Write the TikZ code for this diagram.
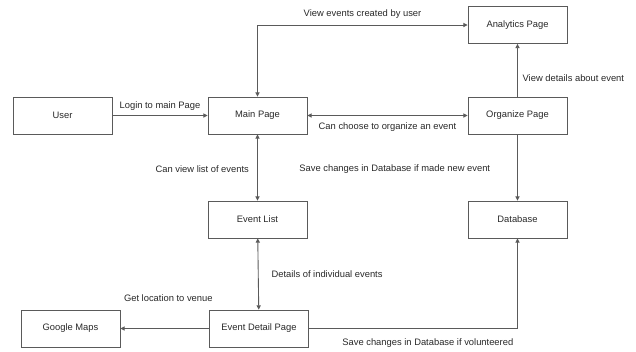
\documentclass[tikz,border=0pt]{standalone}
\usepackage{fontspec}
\setmainfont{Liberation Sans}
\usepackage{xcolor}
\usetikzlibrary{arrows.meta, positioning}
\definecolor{boxline}{RGB}{90, 90, 90}
\definecolor{inktext}{RGB}{40, 40, 40}

\tikzset{
  pagebox/.style={draw=boxline, line width=0.75pt, minimum width=2.97cm, minimum height=1.11cm,
    font=\fontsize{8}{9}\selectfont\color{inktext}},
  flow/.style={draw=boxline, line width=0.75pt, -{Triangle[length=3.6pt, width=3.6pt]}},
  twoway/.style={draw=boxline, line width=0.75pt, {Triangle[length=3.6pt, width=3.6pt]}-{Triangle[length=3.6pt, width=3.6pt]}},
  lbl/.style={font=\fontsize{8}{9}\selectfont\color{inktext}, inner sep=1pt}
}

\begin{document}
\begin{tikzpicture}[x=0.03cm, y=-0.03cm]
  \useasboundingbox (0,0) rectangle (636,351);

  % pages
  \node[pagebox] (user) at (62.5, 115.5) {User};
  \node[pagebox] (main) at (257.5, 115.5) {Main Page};
  \node[pagebox] (analytics) at (517.5, 25) {Analytics Page};
  \node[pagebox] (organize) at (517.5, 115.5) {Organize Page};
  \node[pagebox] (eventlist) at (257.5, 219.5) {Event List};
  \node[pagebox] (database) at (517.5, 219.5) {Database};
  \node[pagebox] (maps) at (70.5, 328.5) {Google Maps};
  \node[pagebox] (detail) at (259, 328.5) {Event Detail Page};

  % connectors
  \draw[flow] (user) -- node[lbl, above=3pt] {Login to main Page} (main);
  \draw[twoway] (main.north) |- node[lbl, pos=0.75, above=4pt] {View events created by user} (analytics.west);
  \draw[twoway] (main) -- node[lbl, below=5pt] {Can choose to organize an event} (organize);
  \draw[flow] (organize) -- node[lbl, pos=0.35, right=3pt] {View details about event} (analytics);
  \draw[flow] (organize) -- node[lbl, left=22pt, pos=0.52] {Save changes in Database if made new event} (database);
  \draw[twoway] (main) -- node[lbl, left=6pt, pos=0.52] {Can view list of events} (eventlist);
  \draw[twoway] (eventlist) -- node[lbl, right=10pt, pos=0.5] {Details of individual events} (detail);
  \draw[flow] (detail) -- node[lbl, above=22pt, pos=0.46] {Get location to venue} (maps);
  \draw[flow] (detail.east) -| node[lbl, pos=0.285, below=7pt] {Save changes in Database if volunteered} (database.south);
\end{tikzpicture}
\end{document}
